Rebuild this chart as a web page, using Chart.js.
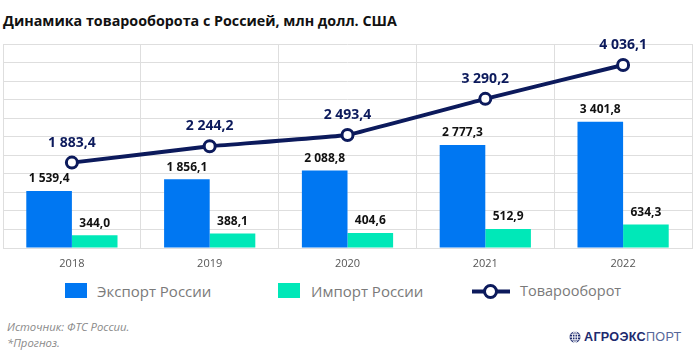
<!DOCTYPE html>
<html><head><meta charset="utf-8">
<script src="https://cdn.jsdelivr.net/npm/chart.js"></script>
<style>
html,body{margin:0;padding:0;background:#fff;}
body{width:695px;height:356px;position:relative;overflow:hidden;font-family:"Open Sans",sans-serif;}
.abs{position:absolute;white-space:nowrap;}
#title{left:3px;top:11px;font-size:14.3px;font-weight:700;color:#111;line-height:20px;}
.lg{font-size:15px;color:#7a7a7a;line-height:18px;top:282px;}
.sq{top:283px;width:22px;height:15px;}
.fn{left:7px;font-size:11.3px;font-style:italic;color:#8a8a8a;line-height:14px;}
</style></head>
<body>
<div id="title" class="abs">Динамика товарооборота с Россией, млн долл. США</div>
<canvas id="c" width="695" height="280" style="position:absolute;left:0;top:0"></canvas>
<div class="abs sq" style="left:65px;background:#0077f2"></div>
<div class="abs lg" style="left:97px">Экспорт России</div>
<div class="abs sq" style="left:278px;background:#00e8b8"></div>
<div class="abs lg" style="left:311px">Импорт России</div>
<svg class="abs" style="left:472px;top:282px" width="38" height="19"><line x1="0" y1="9.5" x2="38" y2="9.5" stroke="#0c1a5c" stroke-width="4"/><circle cx="18.5" cy="9.5" r="6" fill="#fff" stroke="#0c1a5c" stroke-width="3"/></svg>
<div class="abs lg" style="left:520px;font-size:14.5px">Товарооборот</div>
<div class="abs fn" style="top:320px">Источник: ФТС России.</div>
<div class="abs fn" style="top:336px">*Прогноз.</div>
<svg class="abs" style="left:569px;top:331px" width="12" height="12"><circle cx="6" cy="6" r="5.5" fill="#1d2a6e"/><line x1="0.5" y1="6" x2="11.5" y2="6" stroke="#fff" stroke-width="1"/><line x1="6" y1="0.5" x2="6" y2="11.5" stroke="#fff" stroke-width="1"/><ellipse cx="6" cy="6" rx="2.6" ry="5.5" fill="none" stroke="#fff" stroke-width="0.9"/><line x1="1.5" y1="3.3" x2="10.5" y2="3.3" stroke="#fff" stroke-width="0.8"/><line x1="1.5" y1="8.7" x2="10.5" y2="8.7" stroke="#fff" stroke-width="0.8"/></svg>
<div class="abs" style="left:584px;top:329px;font-family:'Liberation Sans',Arial,sans-serif;font-size:12.6px;line-height:16px;letter-spacing:0.3px;"><span style="font-weight:700;color:#1d2a6e">АГРОЭКС</span><span style="color:#56679a">ПОРТ</span></div>
<script>
const categories = ["2018", "2019", "2020", "2021", "2022"];
const exportValues = [1539.4, 1856.1, 2088.8, 2777.3, 3401.8];
const importValues = [344.0, 388.1, 404.6, 512.9, 634.3];
const turnoverValues = [1883.4, 2244.2, 2493.4, 3290.2, 4036.1];
const seriesNames = ["Экспорт России", "Импорт России", "Товарооборот"];

function fmt(v){
  const s = v.toFixed(1).split('.');
  const int = s[0].replace(/\B(?=(\d{3})+(?!\d))/g, ' ');
  return int + ',' + s[1];
}

const labelPlugin = {
  id: 'vlabels',
  afterDatasetsDraw(chart){
    const ctx = chart.ctx;
    ctx.save();
    ctx.textAlign = 'center';
    ctx.textBaseline = 'middle';
    chart.data.datasets.forEach((ds, i) => {
      const meta = chart.getDatasetMeta(i);
      meta.data.forEach((el, j) => {
        const v = ds.data[j];
        if (ds.type === 'line') {
          ctx.font = 'bold 14px "Open Sans"';
          ctx.fillStyle = '#0c1a5c';
          ctx.fillText(fmt(v), el.x, el.y - 20);
        } else {
          ctx.font = 'bold 12px "Open Sans"';
          ctx.fillStyle = '#111';
          ctx.fillText(fmt(v), el.x, el.y - 12);
        }
      });
    });
    ctx.restore();
  }
};

new Chart(document.getElementById('c'), {
  type: 'bar',
  data: {
    labels: categories,
    datasets: [
      {type:'line', label: seriesNames[2], data: turnoverValues, yAxisID:'y1',
       borderColor:'#0c1a5c', borderWidth:4, pointRadius:5.5, pointBorderWidth:3,
       pointBackgroundColor:'#fff', pointBorderColor:'#0c1a5c', order:0, tension:0.05},
      {label: seriesNames[0], data: exportValues, backgroundColor:'#0077f2', yAxisID:'y', order:1,
       categoryPercentage:0.662, barPercentage:1.0},
      {label: seriesNames[1], data: importValues, backgroundColor:'#00e8b8', yAxisID:'y', order:1,
       categoryPercentage:0.662, barPercentage:1.0}
    ]
  },
  options: {
    responsive:false, animation:false,
    layout:{autoPadding:false, padding:{left:3, right:3, top:44, bottom:0}},
    plugins:{legend:{display:false}, tooltip:{enabled:false}},
    scales:{
      x:{
        grid:{color:'#dedede', lineWidth:1, drawTicks:false, offset:true},
        border:{color:'#dedede'},
        ticks:{color:'#555', font:{family:'"Open Sans"', size:11}, padding:9},
        afterFit(s){ s.height = 32; s.paddingLeft = 0; s.paddingRight = 0; }
      },
      y:{
        min:0, max:5500,
        ticks:{stepSize:500, display:false},
        grid:{color:'#dedede', lineWidth:1, drawTicks:false},
        border:{display:false},
        afterFit(s){ s.width = 0; s.paddingTop = 0; s.paddingBottom = 0; }
      },
      y1:{ display:false, min:0, max:4500 }
    }
  },
  plugins:[labelPlugin]
});
</script>
</body></html>
